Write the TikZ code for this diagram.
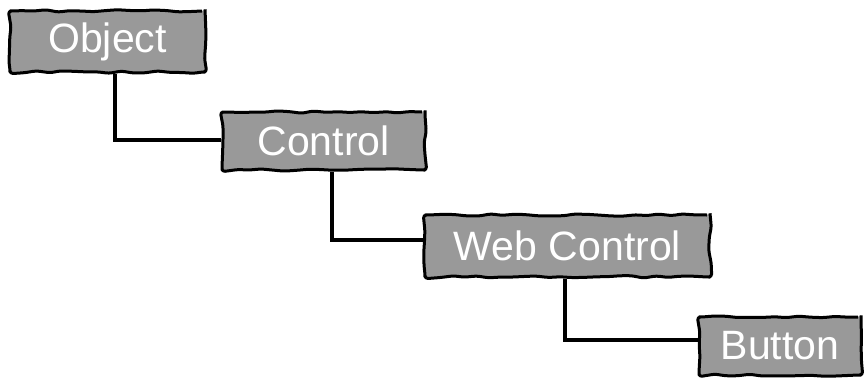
\documentclass[tikz,border=0pt]{standalone}
\usepackage{fontspec}
\setmainfont{Liberation Sans}
\usetikzlibrary{decorations.pathmorphing}
\definecolor{boxgrey}{HTML}{999999}
\tikzset{
  classbox/.style={
    draw=black, fill=boxgrey, line width=3pt, line join=round, text=white,
    rectangle, inner sep=0pt, rounded corners=3pt,
    decorate, decoration={random steps, segment length=12pt, amplitude=1.3pt},
    font=\fontsize{41}{48}\selectfont
  },
  link/.style={draw=black, line width=3.5pt}
}
\begin{document}
\begin{tikzpicture}[x=1pt, y=-1pt]
  \pgfmathsetseed{3}
  \useasboundingbox (0,0) rectangle (865,378);

  % inheritance chain
  \node[classbox, minimum width=195pt, minimum height=61pt] (object)  at (107.5,41.5) {Object};
  \node[classbox, minimum width=203pt, minimum height=58pt] (control) at (323.5,141)  {Control};
  \node[classbox, minimum width=285pt, minimum height=62pt] (web)     at (567.5,246)  {Web Control};
  \node[classbox, minimum width=162pt, minimum height=58pt] (button)  at (780,346)    {Button};

  % elbow connectors from each class down to its subclass
  \draw[link] ([xshift=7.5pt]object.south)  |- ([yshift=1pt]control.west);
  \draw[link] ([xshift=8.5pt]control.south) |- ([yshift=6pt]web.west);
  \draw[link] ([xshift=-2.5pt]web.south)    |- ([yshift=6pt]button.west);
\end{tikzpicture}
\end{document}
